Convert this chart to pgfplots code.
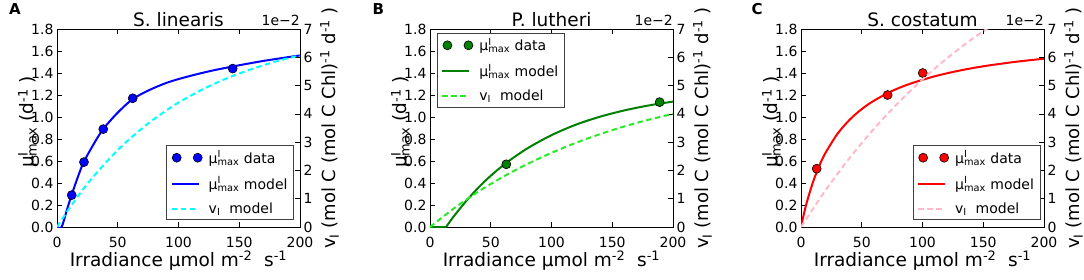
\documentclass[border=0pt]{standalone}
\usepackage{fontspec}
\setmainfont{DejaVu Sans}
\usepackage{pgfplots}
\pgfplotsset{compat=1.18}
\newcommand\ticksf{\fontsize{14}{16}\selectfont}
\newcommand\labf{\fontsize{18.5}{21}\selectfont}
\newcommand\rlabf{\fontsize{18}{21}\selectfont}
\newcommand\legf{\fontsize{14}{16}\selectfont}
\newcommand\mumax{μ\rlap{\textsuperscript{I}}\textsubscript{max}}
\definecolor{cyanL}{RGB}{0,255,255}
\definecolor{mplgreen}{RGB}{0,128,0}
\definecolor{limeL}{RGB}{40,235,40}
\definecolor{pinkL}{RGB}{255,185,200}
\pgfplotsset{
  lgline/.style={legend image code/.code={\draw[##1] (0pt,0pt) -- (27pt,0pt); \path[draw=none,fill=none] (0pt,0pt) -- (35pt,0pt);}},
  lgdots/.style={legend image code/.code={\path[draw=none] plot[only marks, mark=*, mark size=4.5pt, mark options={fill=#1, draw=black, line width=0.6pt, solid}] coordinates {(5pt,0pt) (26pt,0pt)}; \path[draw=none,fill=none] (0pt,0pt) -- (35pt,0pt);}},
  common/.style={scale only axis, width=243pt, height=198pt, anchor=south west,
    xmin=0, xmax=200, tick align=inside, major tick length=5pt,
    tick style={black, line width=0.7pt}, axis line style={line width=0.9pt},
    tick label style={font=\ticksf}},
  lax/.style={common, ymin=0, ymax=1.8,
    xtick={0,50,100,150,200}, xticklabels={0,50,100,150,200},
    ytick={0,0.2,0.4,0.6,0.8,1.0,1.2,1.4,1.6,1.8},
    yticklabels={0.0,0.2,0.4,0.6,0.8,1.0,1.2,1.4,1.6,1.8},
    ytick pos=left,
    xticklabel style={yshift=-7pt},
    xlabel={Irradiance μmol m\textsuperscript{-2}\ \ s\textsuperscript{-1}},
    ylabel={\mumax\ (d\textsuperscript{-1} )},
    every axis x label/.style={at={(rel axis cs:0.5,0)}, anchor=base, yshift=-39.5pt, font=\labf},
    every axis y label/.style={at={(rel axis cs:0,0.53)}, xshift=-19pt, rotate=90, anchor=south, inner sep=0pt, font=\labf},
    every axis title/.style={at={(rel axis cs:0.5,1)}, anchor=base, yshift=3pt, font=\labf}},
  rax/.style={common, ymin=0, ymax=7, axis x line=none, axis y line*=right,
    ytick={0,1,2,3,4,5,6,7}, yticklabels={0,1,2,3,4,5,6,7},
    ylabel={v\textsubscript{I} (mol C (mol C Chl)\textsuperscript{-1} d\textsuperscript{-1} )},
    every axis y label/.style={at={(rel axis cs:1,0.5)}, xshift=20pt, rotate=90, anchor=north, inner sep=0pt, font=\rlabf},
    lgline, legend cell align=left,
    legend style={font=\legf, draw=black!75, line width=0.8pt, fill=white, inner xsep=4pt, inner ysep=3pt, row sep=8pt}},
  dots/.style={only marks, mark=*, mark size=4.5pt, mark options={fill=#1, draw=black, line width=0.6pt}},
}
\begin{document}
\begin{tikzpicture}
\useasboundingbox (0,0) rectangle (1084pt,279pt);
% ---------------- Panel A
\begin{axis}[lax, at={(57pt,52pt)}, title={S. linearis}]
\addplot[blue, line width=2pt, smooth] coordinates {(0,0)(3.8,0)(8,0.15)(12,0.29)(17,0.45)(22,0.59)(30,0.75)(38,0.89)(50,1.04)(62,1.16)(75,1.24)(90,1.31)(105,1.36)(125,1.415)(145,1.46)(170,1.51)(200,1.56)};
\addplot[dots=blue] coordinates {(12.1,0.29)(22.2,0.59)(38.1,0.89)(62.3,1.17)(144.6,1.44)};
\end{axis}
\begin{axis}[rax, at={(57pt,52pt)}, name=ra,
  legend style={at={(0.975,0.035)}, anchor=south east}]
\addlegendimage{dots=blue, lgdots=blue}
\addlegendentry{\mumax\ data}
\addlegendimage{blue, line width=2pt}
\addlegendentry{\mumax\ model}
\addplot[cyanL, line width=2pt, dash pattern=on 5.5pt off 3.5pt, smooth] coordinates {(0,0)(10,0.653)(20,1.25)(30,1.785)(40,2.27)(50,2.72)(60,3.12)(75,3.66)(90,4.12)(100,4.40)(120,4.87)(140,5.26)(160,5.58)(180,5.85)(200,6.07)};
\addlegendentry{v\textsubscript{I}\ \ model}
\end{axis}
\node[anchor=base east, inner sep=0pt, font=\ticksf] at ([yshift=4pt]ra.north east) {1e−2};
\node[anchor=base west, inner sep=0pt, font=\fontsize{15}{17}\selectfont\bfseries] at (9pt,264pt) {A};
% ---------------- Panel B
\begin{axis}[lax, at={(430pt,52pt)}, title={P. lutheri}]
\addplot[mplgreen, line width=2pt] coordinates {(0,0)(13.2,0)};
\addplot[mplgreen, line width=2pt, smooth] coordinates {(13.2,0)(20,0.103)(30,0.239)(40,0.36)(50,0.466)(63,0.585)(80,0.714)(100,0.835)(120,0.93)(140,1.003)(160,1.06)(180,1.105)(200,1.14)};
\addplot[dots=mplgreen] coordinates {(62.8,0.57)(189,1.135)};
\end{axis}
\begin{axis}[rax, at={(430pt,52pt)}, name=rb,
  legend style={at={(0.029,0.98)}, anchor=north west}]
\addlegendimage{dots=mplgreen, lgdots=mplgreen}
\addlegendentry{\mumax\ data}
\addlegendimage{mplgreen, line width=2pt}
\addlegendentry{\mumax\ model}
\addplot[limeL, line width=2pt, dash pattern=on 5.5pt off 3.5pt, smooth] coordinates {(0,0)(20,0.668)(40,1.256)(60,1.772)(80,2.224)(100,2.622)(120,2.975)(140,3.284)(160,3.556)(180,3.793)(200,4.0)};
\addlegendentry{v\textsubscript{I}\ \ model}
\end{axis}
\node[anchor=base east, inner sep=0pt, font=\ticksf] at ([yshift=4pt]rb.north east) {1e−2};
\node[anchor=base west, inner sep=0pt, font=\fontsize{15}{17}\selectfont\bfseries] at (372.5pt,264pt) {B};
% ---------------- Panel C
\begin{axis}[lax, at={(801pt,52pt)}, title={S. costatum}]
\addplot[red, line width=2pt, smooth] coordinates {(0,0)(2,0.101)(5,0.2335)(10,0.413)(15,0.555)(20,0.671)(30,0.847)(40,0.975)(50,1.072)(60,1.148)(75,1.237)(90,1.303)(110,1.37)(130,1.421)(150,1.461)(175,1.4995)(200,1.53)};
\addplot[dots=red] coordinates {(12.9,0.53)(71.3,1.20)(100.2,1.40)};
\end{axis}
\begin{axis}[rax, at={(801pt,52pt)}, name=rc,
  legend style={at={(0.985,0.035)}, anchor=south east}]
\addlegendimage{dots=red, lgdots=red}
\addlegendentry{\mumax\ data}
\addlegendimage{red, line width=2pt}
\addlegendentry{\mumax\ model}
\addplot[pinkL, line width=2pt, dash pattern=on 5.5pt off 3.5pt, smooth] coordinates {(0,0)(20,1.288)(40,2.44)(60,3.47)(80,4.39)(100,5.22)(120,5.96)(140,6.62)(160,7.21)};
\addlegendentry{v\textsubscript{I}\ \ model}
\end{axis}
\node[anchor=base east, inner sep=0pt, font=\ticksf] at ([yshift=4pt]rc.north east) {1e−2};
\node[anchor=base west, inner sep=0pt, font=\fontsize{15}{17}\selectfont\bfseries] at (751.5pt,264pt) {C};
\end{tikzpicture}
\end{document}
